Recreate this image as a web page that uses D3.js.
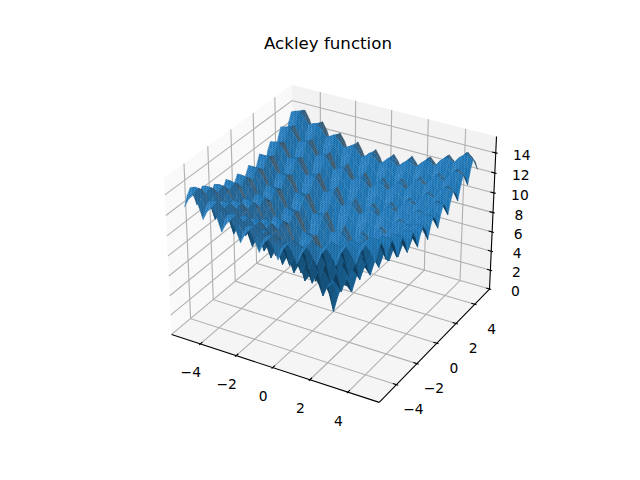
<!DOCTYPE html>
<html><head><meta charset="utf-8">
<script src="https://cdnjs.cloudflare.com/ajax/libs/d3/7.8.5/d3.min.js"></script>
<style>html,body{margin:0;padding:0;background:#fff}svg{display:block}text{font-family:"DejaVu Sans";fill:#000}</style>
</head><body><svg id="c" width="640" height="480"></svg>
<script>
const chartTitle = "Ackley function";
const xTicks = [-4,-2,0,2,4];
const yTicks = [-4,-2,0,2,4];
const zTicks = [0,2,4,6,8,10,12,14];
const xLimits = [-5.4,5.4];
const yLimits = [-5.4,5.4];
const zLimits = [0.3,15.3];
const quadrantAxis = [0,.25,.5,.75,1,1.25,1.5,1.75,2,2.25,2.5,2.75,3,3.25,3.5,3.75,4,4.25,4.5,4.75,5];
// heights read for x>=0, y>=0; the surface is mirror symmetric about both axes
const zQuadrant = [
[0.0,1.8,3.1,3.1,2.6,4.3,5.5,5.5,4.9,6.5,7.7,7.5,6.9,8.4,9.5,9.3,8.6,10.1,11.1,10.9,10.1],
[1.8,2.7,3.6,3.8,3.8,5.0,6.0,6.1,6.0,7.2,8.1,8.2,8.0,9.1,9.9,10.0,9.7,10.8,11.5,11.5,11.2],
[3.1,3.6,4.3,4.5,4.6,5.6,6.4,6.6,6.8,7.7,8.4,8.6,8.7,9.5,10.2,10.4,10.4,11.2,11.8,11.9,11.9],
[3.1,3.8,4.5,4.5,4.3,5.4,6.3,6.4,6.3,7.4,8.3,8.4,8.2,9.2,10.1,10.1,9.8,10.9,11.6,11.6,11.3],
[2.6,3.8,4.6,4.3,3.6,5.1,6.2,6.0,5.4,7.0,8.0,7.9,7.2,8.7,9.8,9.5,8.8,10.3,11.3,11.0,10.3],
[4.3,5.0,5.6,5.4,5.1,6.1,6.9,7.0,6.7,7.8,8.6,8.7,8.4,9.5,10.3,10.3,10.0,11.0,11.8,11.7,11.4],
[5.5,6.0,6.4,6.3,6.2,6.9,7.5,7.7,7.7,8.5,9.1,9.3,9.3,10.1,10.7,10.8,10.8,11.5,12.1,12.2,12.2],
[5.5,6.1,6.6,6.4,6.0,7.0,7.7,7.6,7.3,8.4,9.1,9.1,8.8,9.9,10.6,10.6,10.3,11.3,12.0,11.9,11.6],
[4.9,6.0,6.8,6.3,5.4,6.7,7.7,7.3,6.6,8.0,9.0,8.7,8.0,9.4,10.4,10.1,9.4,10.8,11.8,11.4,10.7],
[6.5,7.2,7.7,7.4,7.0,7.8,8.5,8.4,8.0,9.0,9.7,9.6,9.3,10.3,11.0,10.9,10.6,11.6,12.3,12.2,11.9],
[7.7,8.1,8.4,8.3,8.0,8.6,9.1,9.1,9.0,9.7,10.2,10.3,10.2,10.9,11.5,11.5,11.5,12.2,12.7,12.7,12.6],
[7.5,8.2,8.6,8.4,7.9,8.7,9.3,9.1,8.7,9.6,10.3,10.2,9.8,10.8,11.5,11.4,11.0,11.9,12.6,12.5,12.1],
[6.9,8.0,8.7,8.2,7.2,8.4,9.3,8.8,8.0,9.3,10.2,9.8,9.0,10.4,11.3,10.9,10.1,11.5,12.4,12.0,11.2],
[8.4,9.1,9.5,9.2,8.7,9.5,10.1,9.9,9.4,10.3,10.9,10.8,10.4,11.3,11.9,11.8,11.4,12.3,13.0,12.9,12.5],
[9.5,9.9,10.2,10.1,9.8,10.3,10.7,10.6,10.4,11.0,11.5,11.5,11.3,11.9,12.4,12.4,12.3,12.9,13.4,13.4,13.3],
[9.3,10.0,10.4,10.1,9.5,10.3,10.8,10.6,10.1,10.9,11.5,11.4,10.9,11.8,12.4,12.3,11.9,12.8,13.4,13.2,12.8],
[8.6,9.7,10.4,9.8,8.8,10.0,10.8,10.3,9.4,10.6,11.5,11.0,10.1,11.4,12.3,11.9,11.0,12.3,13.2,12.8,11.9],
[10.1,10.8,11.2,10.9,10.3,11.0,11.5,11.3,10.8,11.6,12.2,11.9,11.5,12.3,12.9,12.8,12.3,13.2,13.8,13.6,13.2],
[11.1,11.5,11.8,11.6,11.3,11.8,12.1,12.0,11.8,12.3,12.7,12.6,12.4,13.0,13.4,13.4,13.2,13.8,14.2,14.2,14.0],
[10.9,11.5,11.9,11.6,11.0,11.7,12.2,11.9,11.4,12.2,12.7,12.5,12.0,12.9,13.4,13.2,12.8,13.6,14.2,14.0,13.5],
[10.1,11.2,11.9,11.3,10.3,11.4,12.2,11.6,10.7,11.9,12.6,12.1,11.2,12.5,13.3,12.8,11.9,13.2,14.0,13.5,12.6]
];
const surfaceColor = [0x1f,0x77,0xb4];

// ---- projection (elev 30, azim -60, dist 10, box 4:4:3) ----
const rad = Math.PI/180, elev = 30*rad, azim = -60*rad, dist = 10;
const boxK = 1.8294640721620434/Math.sqrt(41);
const box = [4*boxK,4*boxK,3*boxK];
const sx = d3.scaleLinear().domain(xLimits).range([0,box[0]]);
const sy = d3.scaleLinear().domain(yLimits).range([0,box[1]]);
const sz = d3.scaleLinear().domain(zLimits).range([0,box[2]]);
const cross=(a,b)=>[a[1]*b[2]-a[2]*b[1],a[2]*b[0]-a[0]*b[2],a[0]*b[1]-a[1]*b[0]];
const dot=(a,b)=>a[0]*b[0]+a[1]*b[1]+a[2]*b[2];
const unit=a=>{const n=Math.hypot(...a);return a.map(d=>d/n)};
const wDir=[Math.cos(elev)*Math.cos(azim),Math.cos(elev)*Math.sin(azim),Math.sin(elev)];
const eye=box.map((b,i)=>b/2+dist*wDir[i]);
const uDir=unit(cross([0,0,1],wDir)), vDir=cross(wDir,uDir);
const screenX=d3.scaleLinear().domain([-.095,.09]).range([143.7,513.3]);
const screenY=d3.scaleLinear().domain([-.095,.09]).range([425.7,56.1]);
function project(x,y,z){
  const d=[sx(x)-eye[0],sy(y)-eye[1],sz(z)-eye[2]];
  const depth=-dot(d,wDir);
  return {x:screenX(dot(d,uDir)/depth),y:screenY(dot(d,vDir)/depth),depth};
}
const svg=d3.select("#c");
const P=(x,y,z)=>{const p=project(x,y,z);return [p.x,p.y]};
const line=d3.line();
const dx=(xLimits[1]-xLimits[0])/48, dy=(yLimits[1]-yLimits[0])/48, dz=(zLimits[1]-zLimits[0])/48;
const x0=xLimits[0]-dx,x1=xLimits[1]+dx,y0=yLimits[0]-dy,y1=yLimits[1]+dy,z0=zLimits[0]-dz,z1=zLimits[1]+dz;

// panes
const panes=[
 {c:"#f9f9f9",p:[[x0,y0,z0],[x0,y1,z0],[x0,y1,z1],[x0,y0,z1]]},
 {c:"#f2f2f2",p:[[x0,y1,z0],[x1,y1,z0],[x1,y1,z1],[x0,y1,z1]]},
 {c:"#f5f5f5",p:[[x0,y0,z0],[x1,y0,z0],[x1,y1,z0],[x0,y1,z0]]}];
svg.append("g").selectAll("path").data(panes).join("path")
 .attr("d",d=>line(d.p.map(q=>P(...q)))+"Z").attr("fill",d=>d.c);

// grid
const gridPaths=[
 ...xTicks.map(t=>[[t,y0,z0],[t,y1,z0],[t,y1,z1]]),
 ...yTicks.map(t=>[[x1,t,z0],[x0,t,z0],[x0,t,z1]]),
 ...zTicks.map(t=>[[x0,y0,t],[x0,y1,t],[x1,y1,t]])];
svg.append("g").selectAll("path").data(gridPaths).join("path")
 .attr("d",d=>line(d.map(q=>P(...q)))).attr("fill","none").attr("stroke","#b0b0b0").attr("stroke-width",1.11);

// spines and ticks
const spines=[[[x0,y0,z0],[x1,y0,z0]],[[x1,y0,z0],[x1,y1,z0]],[[x1,y1,z0],[x1,y1,z1]]];
const kx=(x1-x0)/12,ky=(y1-y0)/12;
const tickSegs=[
 ...xTicks.map(t=>[[t,y0-.1*ky,z0],[t,y0+.2*ky,z0]]),
 ...yTicks.map(t=>[[x1+.1*kx,t,z0],[x1-.2*kx,t,z0]]),
 ...zTicks.map(t=>[[x1+.1*kx,y1,t],[x1-.2*kx,y1,t]])];
svg.append("g").selectAll("path").data([...spines,...tickSegs]).join("path")
 .attr("d",d=>line(d.map(q=>P(...q)))).attr("fill","none").attr("stroke","#000").attr("stroke-width",1.11);

// stippled top-side fills (the reference's fine mesh reads as a pixel texture)
const topRamp=d3.scaleLinear().domain([.15,.35,.6,1]).range(["#3d5f78","#286c9e","#237dbd","#3189cb"]).clamp(true);
const levels=d3.range(10);
const defs=svg.append("defs");
const pat=defs.selectAll("pattern").data(levels).join("pattern")
 .attr("id",d=>"st"+d).attr("patternUnits","userSpaceOnUse").attr("width",3).attr("height",2);
const levelT=l=>.15+.85*l/9;
pat.append("rect").attr("width",3).attr("height",2).attr("fill",d=>topRamp(levelT(d)));
const dark=d=>d3.rgb(topRamp(levelT(d))).darker(d<3?.45:.55).formatHex();
pat.append("rect").attr("x",0).attr("y",0).attr("width",1).attr("height",1).attr("fill",dark).attr("shape-rendering","crispEdges");
pat.append("rect").attr("x",1).attr("y",1).attr("width",1).attr("height",1).attr("fill",dark).attr("shape-rendering","crispEdges");

// surface
const axisFull=[...quadrantAxis.slice(1).reverse().map(d=>-d),...quadrantAxis];
const nq=quadrantAxis.length-1;
const Z=(i,j)=>zQuadrant[Math.abs(i-nq)][Math.abs(j-nq)];
const light=[-2/3,-2/3,1/3];
const cells=[];
for(let i=0;i<axisFull.length-1;i++)for(let j=0;j<axisFull.length-1;j++){
  const c=[[i,j],[i+1,j],[i+1,j+1],[i,j+1]].map(([a,b])=>[axisFull[a],axisFull[b],Z(a,b)]);
  const n=unit(cross(c[2].map((v,k)=>v-c[0][k]),c[3].map((v,k)=>v-c[1][k])));
  const t=(dot(n,light)+1)/2;
  const pr=c.map(q=>project(...q));
  const pts=pr.map(p=>[p.x,p.y]);
  const topSide=d3.polygonArea(pts)>0; // seen from above the surface
  let fill;
  if(topSide){
    const lv=Math.max(0,Math.min(9,Math.round((t-.15)/.85*9)));
    fill=`url(#st${lv})`;
  } else fill=d3.rgb(...surfaceColor.map(v=>v*(.45+.55*t))).formatHex();
  cells.push({pts,depth:d3.mean(pr,p=>p.depth),fill});
}
cells.sort((a,b)=>b.depth-a.depth);
svg.append("g").selectAll("path").data(cells).join("path")
 .attr("d",d=>line(d.pts)+"Z").attr("fill",d=>d.fill).attr("stroke",d=>d.fill).attr("stroke-width",.4);

// labels
const fmt=t=>String(t).replace("-","\u2212");
const labels=[
 ...xTicks.map(t=>{const p=P(t,y0,z0);return {t,x:p[0]-9.5,y:p[1]+28.5}}),
 ...yTicks.map(t=>{const p=P(x1,t,z0);return {t,x:p[0]+17,y:p[1]+24.5}}),
 ...zTicks.map(t=>{const p=P(x1,y1,t);return {t,x:p[0]+26,y:p[1]+2}})];
svg.append("g").selectAll("text").data(labels).join("text")
 .attr("x",d=>d.x).attr("y",d=>d.y).attr("text-anchor","middle").attr("dominant-baseline","central")
 .attr("font-size",13.89).text(d=>fmt(d.t));
svg.append("text").attr("x",328).attr("y",49).attr("text-anchor","middle").attr("font-size",16.67).text(chartTitle);
</script></body></html>
